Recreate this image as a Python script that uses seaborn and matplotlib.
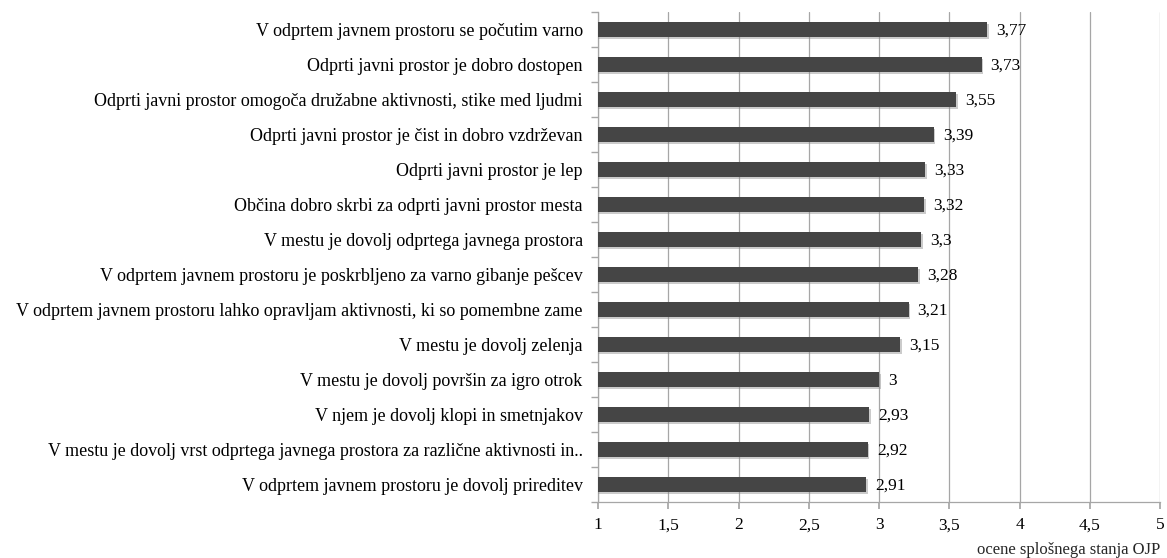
import matplotlib
matplotlib.use("Agg")
import matplotlib.pyplot as plt
import matplotlib.patheffects as pe
from matplotlib.ticker import MultipleLocator, FixedLocator, FuncFormatter
import seaborn as sns
import pandas as pd

categories = [
    "V odprtem javnem prostoru se počutim varno",
    "Odprti javni prostor je dobro dostopen",
    "Odprti javni prostor omogoča družabne aktivnosti, stike med ljudmi",
    "Odprti javni prostor je čist in dobro vzdrževan",
    "Odprti javni prostor je lep",
    "Občina dobro skrbi za odprti javni prostor mesta",
    "V mestu je dovolj odprtega javnega prostora",
    "V odprtem javnem prostoru je poskrbljeno za varno gibanje pešcev",
    "V odprtem javnem prostoru lahko opravljam aktivnosti, ki so pomembne zame",
    "V mestu je dovolj zelenja",
    "V mestu je dovolj površin za igro otrok",
    "V njem je dovolj klopi in smetnjakov",
    "V mestu je dovolj vrst odprtega javnega prostora za različne aktivnosti in..",
    "V odprtem javnem prostoru je dovolj prireditev",
]
values = [3.77, 3.73, 3.55, 3.39, 3.33, 3.32, 3.3, 3.28, 3.21, 3.15, 3.0, 2.93, 2.92, 2.91]
x_label = "ocene splošnega stanja OJP"

df = pd.DataFrame({"cat": categories, "val": values})

sns.set_theme(style="white")
plt.rcParams["font.family"] = ["Liberation Serif", "DejaVu Serif"]

fig = plt.figure(figsize=(11.67, 5.58), dpi=100)
ax = fig.add_axes([598 / 1167, 1 - 502 / 558, (1160 - 598) / 1167, (502 - 12) / 558])

sns.barplot(data=df, x="val", y="cat", orient="h", color="#454545",
            saturation=1, width=0.42, ax=ax, zorder=3, linewidth=0)
for p in ax.patches:
    p.set_path_effects([pe.SimplePatchShadow(offset=(1.2, -1.5), shadow_rgbFace="#8c8c8c", alpha=0.45), pe.Normal()])

ax.set_xlim(1, 5)
ax.set_ylim(len(categories) - 0.5, -0.5)
ax.xaxis.set_major_locator(MultipleLocator(0.5))
ax.xaxis.set_major_formatter(FuncFormatter(lambda v, _: f"{v:g}".replace(".", ",")))
ax.grid(axis="x", color="#a6a6a6", linewidth=0.9, zorder=0)
ax.set_axisbelow(True)

for i, v in enumerate(values):
    ax.text(v + 0.064, i + 0.03, f"{v:g}".replace(".", ","), va="center", ha="left",
            fontsize=12.5, color="#000000")

ax.set_ylabel("")
ax.set_xlabel(x_label, fontsize=12, loc="right", labelpad=6)
ax.tick_params(axis="y", length=0, labelsize=13, pad=11, colors="#000000")
ax.tick_params(axis="x", length=5, direction="out", labelsize=12.5, pad=6, colors="#000000", color="#a6a6a6", bottom=True)
ax.yaxis.set_minor_locator(FixedLocator([i - 0.5 for i in range(len(categories) + 1)]))
ax.tick_params(axis="y", which="minor", length=5, color="#a6a6a6", left=True)

for s in ["top", "right"]:
    ax.spines[s].set_visible(False)
for s in ["left", "bottom"]:
    ax.spines[s].set_color("#a6a6a6")
    ax.spines[s].set_linewidth(0.9)

fig.savefig("out.png", dpi=100)
